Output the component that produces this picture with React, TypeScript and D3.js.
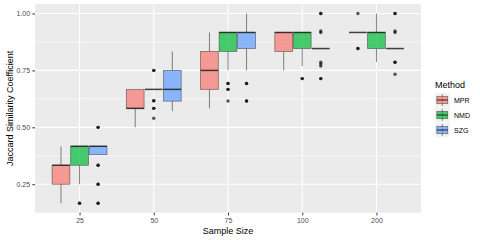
import React, { useRef, useEffect } from "react";
import * as d3 from "d3";

const sizes = ["25", "50", "75", "100", "200"];
const methods = ["MPR", "NMD", "SZG"];
const methodColors = ["#F8766D", "#00BA38", "#619CFF"];
const yTicks = [0.25, 0.5, 0.75, 1.0];
const yMinor = [0.375, 0.625, 0.875];

// [lower whisker, q1, median, q3, upper whisker] for each sample size
const mprBoxes = [
  [0.1667, 0.25, 0.3333, 0.3333, 0.4167],
  [0.5, 0.5833, 0.5833, 0.6667, 0.6667],
  [0.5833, 0.6667, 0.75, 0.8333, 0.9167],
  [0.75, 0.8333, 0.9167, 0.9167, 0.9167],
  [0.9167, 0.9167, 0.9167, 0.9167, 0.9167],
];
const nmdBoxes = [
  [0.25, 0.3333, 0.4167, 0.4167, 0.4167],
  [0.6667, 0.6667, 0.6667, 0.6667, 0.6667],
  [0.75, 0.8333, 0.9167, 0.9167, 0.9167],
  [0.769, 0.846, 0.9167, 0.9167, 0.9167],
  [0.787, 0.846, 0.9167, 0.9167, 1.0],
];
const szgBoxes = [
  [0.38, 0.38, 0.4167, 0.4167, 0.4167],
  [0.5714, 0.615, 0.6667, 0.75, 0.8333],
  [0.75, 0.846, 0.9167, 0.9167, 1.0],
  [0.846, 0.846, 0.846, 0.846, 0.846],
  [0.846, 0.846, 0.846, 0.846, 0.846],
];

// outliers (repeated values = overlapping points)
const mprOutliers = [[], [], [], [], [1.0, 0.846, 0.846]];
const nmdOutliers = [
  [0.1667, 0.1667],
  [0.75, 0.75, 0.617, 0.617, 0.5833, 0.5833, 0.54],
  [0.6923, 0.6923, 0.6667, 0.6667, 0.6154],
  [0.714, 0.714],
  [],
];
const szgOutliers = [
  [0.5, 0.5, 0.3333, 0.3333, 0.25, 0.25, 0.1667, 0.1667],
  [],
  [0.6923, 0.6923, 0.6154, 0.6154],
  [1.0, 1.0, 0.9167, 0.9231, 0.7857, 0.7778, 0.7692, 0.714, 0.714],
  [1.0, 1.0, 0.9167, 0.9231, 0.7857, 0.7857, 0.7333],
];

const allBoxes = [mprBoxes, nmdBoxes, szgBoxes];
const allOutliers = [mprOutliers, nmdOutliers, szgOutliers];

export default function App() {
  const svgRef = useRef<SVGSVGElement>(null);

  useEffect(() => {
    const width = 480;
    const height = 240;
    const left = 35, right = 421, top = 4, bottom = 212.7;
    const font = "'Liberation Sans', Arial, Helvetica, sans-serif";

    const svg = d3.select(svgRef.current)
      .attr("width", width)
      .attr("height", height);
    svg.selectAll("*").remove();

    svg.append("rect").attr("width", width).attr("height", height).attr("fill", "#ffffff");

    const x = d3.scalePoint<string>().domain(sizes).range([left, right]).padding(0.6);
    const y = d3.scaleLinear().domain([0.125, 1.0417]).range([bottom, top]);
    const step = x.step();
    const bw = (step * 0.75) / methods.length;

    // panel
    svg.append("rect")
      .attr("x", left).attr("y", top)
      .attr("width", right - left).attr("height", bottom - top)
      .attr("fill", "#EBEBEB");

    svg.append("g").selectAll("line").data(yMinor).join("line")
      .attr("x1", left).attr("x2", right)
      .attr("y1", d => y(d)).attr("y2", d => y(d))
      .attr("stroke", "#fff").attr("stroke-width", 0.55);
    svg.append("g").selectAll("line").data(yTicks).join("line")
      .attr("x1", left).attr("x2", right)
      .attr("y1", d => y(d)).attr("y2", d => y(d))
      .attr("stroke", "#fff").attr("stroke-width", 1.1);
    svg.append("g").selectAll("line").data(sizes).join("line")
      .attr("x1", d => x(d)!).attr("x2", d => x(d)!)
      .attr("y1", top).attr("y2", bottom)
      .attr("stroke", "#fff").attr("stroke-width", 1.1);

    // boxes
    allBoxes.forEach((boxes, j) => {
      boxes.forEach((b, i) => {
        const g = svg.append("g");
        const cx = x(sizes[i])! + (j - 1) * bw;
        const [lo, q1, med, q3, hi] = b;
        g.append("line")
          .attr("x1", cx).attr("x2", cx).attr("y1", y(hi)).attr("y2", y(q3))
          .attr("stroke", "#333").attr("stroke-opacity", 0.75).attr("stroke-width", 0.8);
        g.append("line")
          .attr("x1", cx).attr("x2", cx).attr("y1", y(q1)).attr("y2", y(lo))
          .attr("stroke", "#333").attr("stroke-opacity", 0.75).attr("stroke-width", 0.8);
        g.append("rect")
          .attr("x", cx - bw / 2 + 0.4).attr("width", bw - 0.8)
          .attr("y", y(q3)).attr("height", Math.max(0, y(q1) - y(q3)))
          .attr("fill", methodColors[j]).attr("fill-opacity", 0.7)
          .attr("stroke", "#333").attr("stroke-opacity", 0.6).attr("stroke-width", 0.8);
        g.append("line")
          .attr("x1", cx - bw / 2 + 0.4).attr("x2", cx + bw / 2 - 0.4)
          .attr("y1", y(med)).attr("y2", y(med))
          .attr("stroke", "#222").attr("stroke-opacity", 0.85).attr("stroke-width", 1.5);
        g.selectAll("circle").data(allOutliers[j][i]).join("circle")
          .attr("cx", cx).attr("cy", d => y(d)).attr("r", 1.7)
          .attr("fill", "#000").attr("fill-opacity", 0.65);
      });
    });

    // axes
    const yAxis = svg.append("g")
      .attr("transform", `translate(${left},0)`)
      .call(d3.axisLeft(y).tickValues(yTicks).tickFormat(d3.format(".2f")).tickSize(2.7).tickPadding(2.2));
    const xAxis = svg.append("g")
      .attr("transform", `translate(0,${bottom})`)
      .call(d3.axisBottom(x).tickSize(2.7).tickPadding(2.2));
    [xAxis, yAxis].forEach(ax => {
      ax.select(".domain").remove();
      ax.attr("font-family", font).attr("font-size", 7);
      ax.selectAll(".tick line").attr("stroke", "#333").attr("stroke-width", 1);
      ax.selectAll(".tick text").attr("fill", "#4D4D4D");
    });

    svg.append("text")
      .attr("x", (left + right) / 2).attr("y", 233.5)
      .attr("text-anchor", "middle")
      .attr("font-family", font).attr("font-size", 9).attr("fill", "#000")
      .text("Sample Size");
    svg.append("text")
      .attr("transform", `translate(13,${(top + bottom) / 2}) rotate(-90)`)
      .attr("text-anchor", "middle")
      .attr("font-family", font).attr("font-size", 9).attr("fill", "#000")
      .text("Jaccard Similarity Coefficient");

    // legend
    const lg = svg.append("g").attr("transform", "translate(435,0)");
    lg.append("text")
      .attr("x", 0).attr("y", 88)
      .attr("font-family", font).attr("font-size", 9).attr("fill", "#000")
      .text("Method");
    const ks = 14.5;
    methods.forEach((m, j) => {
      const cy = 100 + j * 15;
      const k = lg.append("g").attr("transform", `translate(0,${cy - ks / 2})`);
      k.append("rect").attr("width", ks).attr("height", ks).attr("fill", "#F2F2F2");
      k.append("line").attr("x1", ks / 2).attr("x2", ks / 2).attr("y1", ks * 0.1).attr("y2", ks * 0.9)
        .attr("stroke", "#333").attr("stroke-opacity", 0.75).attr("stroke-width", 0.8);
      k.append("rect")
        .attr("x", ks * 0.125).attr("width", ks * 0.75)
        .attr("y", ks * 0.25).attr("height", ks * 0.5)
        .attr("fill", methodColors[j]).attr("fill-opacity", 0.7)
        .attr("stroke", "#333").attr("stroke-opacity", 0.6).attr("stroke-width", 0.8);
      k.append("line").attr("x1", ks * 0.125).attr("x2", ks * 0.875).attr("y1", ks / 2).attr("y2", ks / 2)
        .attr("stroke", "#222").attr("stroke-opacity", 0.85).attr("stroke-width", 1.2);
      lg.append("text")
        .attr("x", 19).attr("y", cy + 2.5)
        .attr("font-family", font).attr("font-size", 7).attr("fill", "#000")
        .text(m);
    });
  }, []);

  return (
    <svg ref={svgRef} style={{ position: "absolute", left: 0, top: 0 }}></svg>
  );
}
